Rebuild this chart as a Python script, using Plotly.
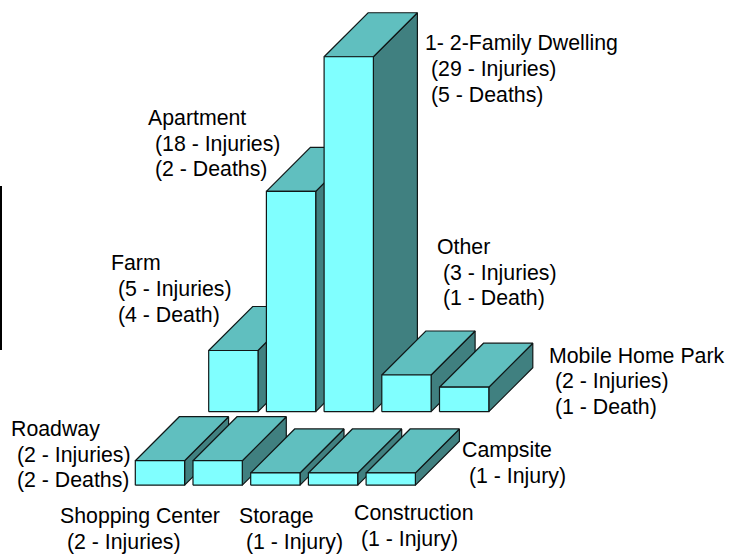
import plotly.graph_objects as go

WIDTH, HEIGHT = 731, 555

# ---- data ----
back_categories = ["Farm", "Apartment", "1- 2-Family Dwelling", "Other", "Mobile Home Park"]
back_injuries = [5, 18, 29, 3, 2]
front_categories = ["Roadway", "Shopping Center", "Storage", "Construction", "Campsite"]
front_injuries = [2, 2, 1, 1, 1]

label_names = ["1- 2-Family Dwelling", "Apartment", "Farm", "Other", "Mobile Home Park",
               "Roadway", "Shopping Center", "Storage", "Construction", "Campsite"]
label_injuries = ["(29 - Injuries)", "(18 - Injuries)", "(5 - Injuries)", "(3 - Injuries)",
                  "(2 - Injuries)", "(2 - Injuries)", "(2 - Injuries)", "(1 - Injury)",
                  "(1 - Injury)", "(1 - Injury)"]
label_deaths = ["(5 - Deaths)", "(2 - Deaths)", "(4 - Death)", "(1 - Death)",
                "(1 - Death)", "(2 - Deaths)", None, None, None, None]

# ---- layout of the oblique drawing (axis units: slot, injuries) ----
PX_PER_SLOT = 57.7
PX_PER_INJURY = 12.24
BASE_PX_X, BASE_PX_Y = 208.7, 411.7
BAR_WIDTH = 49.3 / PX_PER_SLOT
DEPTH_X = 44.0 / PX_PER_SLOT
DEPTH_Y = 44.0 / PX_PER_INJURY
FRONT_ROW_X = (135.3 - BASE_PX_X) / PX_PER_SLOT
FRONT_ROW_Y = (BASE_PX_Y - 485.2) / PX_PER_INJURY

COL_FRONT, COL_TOP, COL_SIDE = "#80FFFF", "#60BFBF", "#408080"
OUTLINE = "#101818"

# left px, centre-y px of first line, indented left px, line pitches
label_boxes = [
    (425, 43, 431, 69, 95), (148, 118, 155, 144, 169), (111, 263, 118, 289, 315),
    (437, 247, 443, 273, 298), (549, 356, 555, 381, 407), (11, 429, 17, 455, 480),
    (60, 516, 67, 542, None), (239, 516, 246, 542, None), (354, 513, 361, 539, None),
    (462, 450, 469, 476, None),
]

fig = go.Figure()


def face(xs, ys, color):
    fig.add_trace(go.Scatter(
        x=xs + xs[:1], y=ys + ys[:1], mode="lines", fill="toself", fillcolor=color,
        line=dict(color=OUTLINE, width=1.2), hoverinfo="skip", showlegend=False))


def bar(x0, y0, h):
    x1 = x0 + BAR_WIDTH
    y1 = y0 + h
    dx, dy = DEPTH_X, DEPTH_Y
    face([x1, x1 + dx, x1 + dx, x1], [y0, y0 + dy, y1 + dy, y1], COL_SIDE)
    face([x0, x1, x1 + dx, x0 + dx], [y1, y1, y1 + dy, y1 + dy], COL_TOP)
    face([x0, x1, x1, x0], [y0, y0, y1, y1], COL_FRONT)


for i, v in enumerate(back_injuries):
    bar(i, 0, v)
for i, v in enumerate(front_injuries):
    bar(FRONT_ROW_X + i, FRONT_ROW_Y, v)

annotations = []


def text(s, left, cy):
    annotations.append(dict(
        text=s, x=left / WIDTH, y=1 - cy / HEIGHT, xref="paper", yref="paper",
        xanchor="left", yanchor="middle", showarrow=False, borderpad=0, borderwidth=0,
        font=dict(family="Liberation Sans", size=21.3, color="#000000")))


for name, inj, dea, box in zip(label_names, label_injuries, label_deaths, label_boxes):
    left, y1, ind, y2, y3 = box
    text(name, left, y1)
    text(inj, ind, y2)
    if dea:
        text(dea, ind, y3)

fig.update_layout(
    width=WIDTH, height=HEIGHT, margin=dict(l=0, r=0, t=0, b=0),
    paper_bgcolor="#FFFFFF", plot_bgcolor="#FFFFFF", showlegend=False,
    xaxis=dict(visible=False, fixedrange=True,
               range=[-BASE_PX_X / PX_PER_SLOT, (WIDTH - BASE_PX_X) / PX_PER_SLOT]),
    yaxis=dict(visible=False, fixedrange=True,
               range=[(BASE_PX_Y - HEIGHT) / PX_PER_INJURY, BASE_PX_Y / PX_PER_INJURY]),
    annotations=annotations,
    shapes=[dict(type="line", xref="paper", yref="paper", x0=1 / WIDTH, x1=1 / WIDTH,
                 y0=1 - 186 / HEIGHT, y1=1 - 350 / HEIGHT,
                 line=dict(color="#000000", width=2))],
)
fig.write_html("out.html", config={"displayModeBar": False},
               post_script="document.body.style.margin='0';document.body.style.overflow='hidden';")
